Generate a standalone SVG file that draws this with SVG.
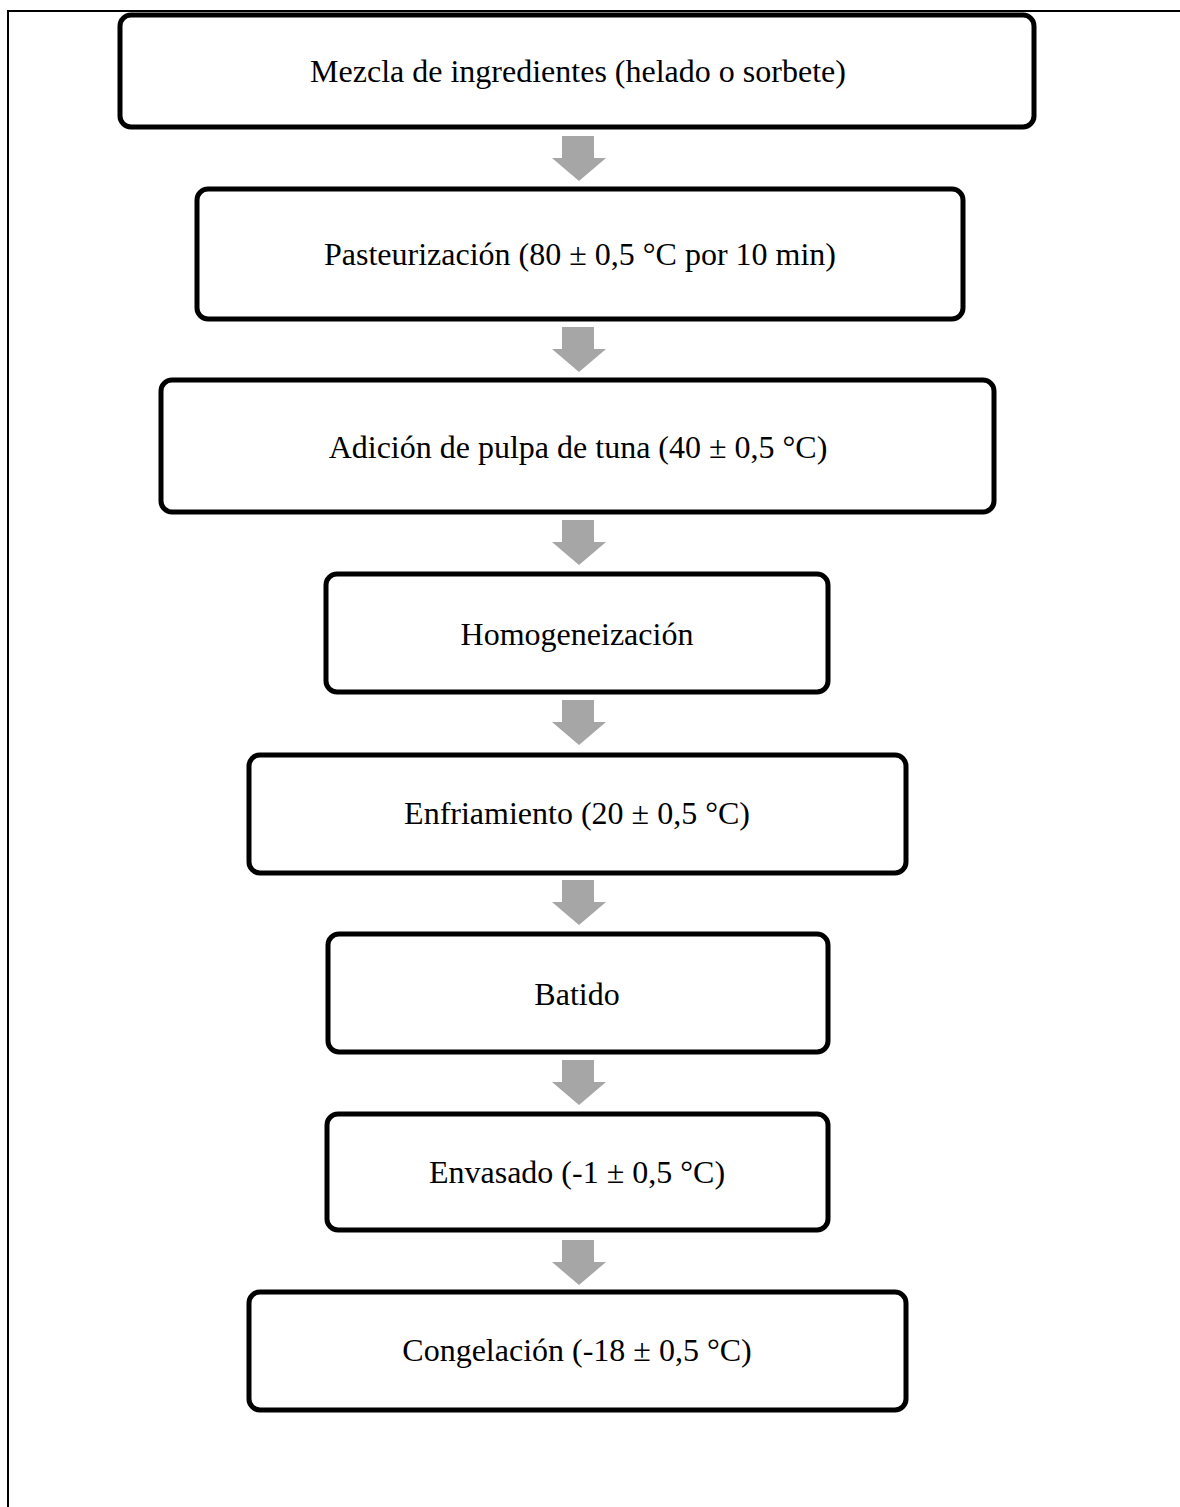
<svg xmlns="http://www.w3.org/2000/svg" width="1180" height="1507" viewBox="0 0 1180 1507">
<style>
.box{fill:#fff;stroke:#000;stroke-width:5}
.lbl{font-family:"Liberation Serif","Times New Roman",serif;font-size:32px;fill:#000;text-anchor:middle}
.arr{fill:#a6a6a6}
</style>
<defs>
<path id="down" d="M-17,0 H15 V22 H27 L0,45 L-27,22 H-17 Z"/>
</defs>
<rect x="0" y="0" width="1180" height="1507" fill="#fff"/>
<g id="frame" stroke="#000" stroke-width="2" fill="none">
<line x1="8" y1="11" x2="1180" y2="11"/>
<line x1="8" y1="10" x2="8" y2="1507"/>
</g>
<g id="connectors">
<use href="#down" class="arr" x="579" y="136"/>
<use href="#down" class="arr" x="579" y="327"/>
<use href="#down" class="arr" x="579" y="520"/>
<use href="#down" class="arr" x="579" y="700"/>
<use href="#down" class="arr" x="579" y="880"/>
<use href="#down" class="arr" x="579" y="1060"/>
<use href="#down" class="arr" x="579" y="1240"/>
</g>
<g id="n1"><rect class="box" x="120" y="15" width="914" height="112" rx="11"/><text class="lbl" x="578" y="82">Mezcla de ingredientes (helado o sorbete)</text></g>
<g id="n2"><rect class="box" x="197" y="189" width="766" height="130" rx="11"/><text class="lbl" x="580" y="265">Pasteurización (80 ± 0,5 °C por 10 min)</text></g>
<g id="n3"><rect class="box" x="161" y="380" width="833" height="132" rx="11"/><text class="lbl" x="578" y="458">Adición de pulpa de tuna (40 ± 0,5 °C)</text></g>
<g id="n4"><rect class="box" x="326" y="574" width="502" height="118" rx="11"/><text class="lbl" x="577" y="645">Homogeneización</text></g>
<g id="n5"><rect class="box" x="249" y="755" width="657" height="118" rx="11"/><text class="lbl" x="577" y="824">Enfriamiento (20 ± 0,5 °C)</text></g>
<g id="n6"><rect class="box" x="328" y="934" width="500" height="118" rx="11"/><text class="lbl" x="577" y="1005">Batido</text></g>
<g id="n7"><rect class="box" x="327" y="1114" width="501" height="116" rx="11"/><text class="lbl" x="577" y="1183">Envasado (-1 ± 0,5 °C)</text></g>
<g id="n8"><rect class="box" x="249" y="1292" width="657" height="118" rx="11"/><text class="lbl" x="577" y="1361">Congelación (-18 ± 0,5 °C)</text></g>
</svg>
